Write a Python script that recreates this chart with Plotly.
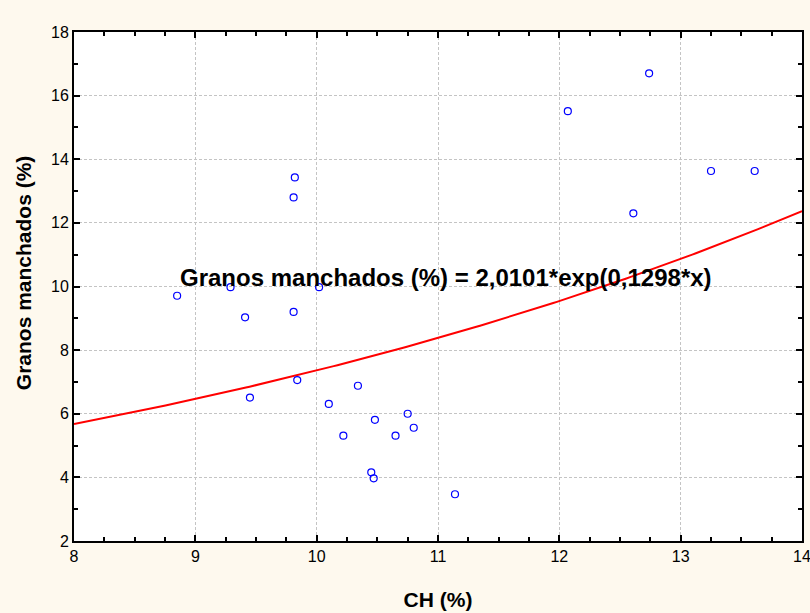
import numpy as np
import plotly.graph_objects as go

# Observed samples: starch content (CH, %) vs stained grains (%)
ch = [8.85, 9.29, 9.41, 9.45, 9.81, 9.82, 9.81, 9.84, 10.02, 10.10, 10.34, 10.22,
      10.48, 10.45, 10.47, 10.65, 10.75, 10.80, 11.14, 12.07, 12.74, 12.61, 13.25, 13.61]
granos = [9.71, 9.98, 9.03, 6.51, 12.80, 13.43, 9.20, 7.06, 9.98, 6.31, 6.88, 5.31,
          5.81, 4.16, 3.97, 5.31, 6.00, 5.56, 3.47, 15.51, 16.70, 12.30, 13.63, 13.63]

# Fitted exponential model: y = a * exp(b * x)
coef_a = 2.0101
coef_b = 0.1298
fit_label = "Granos manchados (%) = 2,0101*exp(0,1298*x)"

x_title = "CH (%)"
y_title = "Granos manchados (%)"

x_range = [8, 14]
y_range = [2, 18]

xf = np.linspace(x_range[0], x_range[1], 200)
yf = coef_a * np.exp(coef_b * xf)

fig = go.Figure()
fig.add_trace(go.Scatter(
    x=xf, y=yf, mode="lines",
    line=dict(color="#FF0000", width=2),
    hoverinfo="skip", showlegend=False,
))
fig.add_trace(go.Scatter(
    x=ch, y=granos, mode="markers",
    marker=dict(symbol="circle-open", size=7, color="#0000FF", line=dict(width=1.2)),
    showlegend=False,
))

bold_font = "Liberation Sans, Arial"

# regression equation label
fig.add_annotation(
    x=11.07, y=10.28, xref="x", yref="y", text=fit_label, showarrow=False,
    font=dict(family=bold_font, size=24, color="#000000", weight="bold"),
)

# vertical axis title
fig.add_annotation(
    x=-0.07, y=10.42, xref="paper", yref="y", text=y_title, showarrow=False,
    textangle=-90, xanchor="center", yanchor="middle",
    font=dict(family=bold_font, size=21, color="#000000", weight="bold"),
)

axis_common = dict(
    showline=True, linecolor="#000000", linewidth=2, mirror="allticks",
    ticks="inside", ticklen=6, tickcolor="#000000", tickwidth=1.5,
    showgrid=True, gridcolor="#C4C4C4", griddash="3px,2px", gridwidth=1,
    zeroline=False, automargin=False, ticklabeloverflow="allow",
    tickfont=dict(family="Liberation Sans, Arial", size=16, color="#000000"),
)

fig.update_xaxes(
    range=x_range, dtick=1, tick0=8,
    minor=dict(dtick=0.25, ticks="inside", ticklen=4, tickcolor="#000000", showgrid=False),
    title=dict(text=x_title, standoff=28,
               font=dict(family=bold_font, size=21, weight="bold")),
    **axis_common,
)
fig.update_yaxes(
    range=y_range, dtick=2, tick0=2,
    minor=dict(dtick=1, ticks="inside", ticklen=4, tickcolor="#000000", showgrid=False),
    **axis_common,
)

fig.update_layout(
    width=810, height=613,
    margin=dict(l=74, r=8, t=32, b=72),
    paper_bgcolor="#FEF9EE",
    plot_bgcolor="#FFFFFF",
    font=dict(family="Liberation Sans, Arial", color="#000000"),
)

fig.write_html("out.html")
